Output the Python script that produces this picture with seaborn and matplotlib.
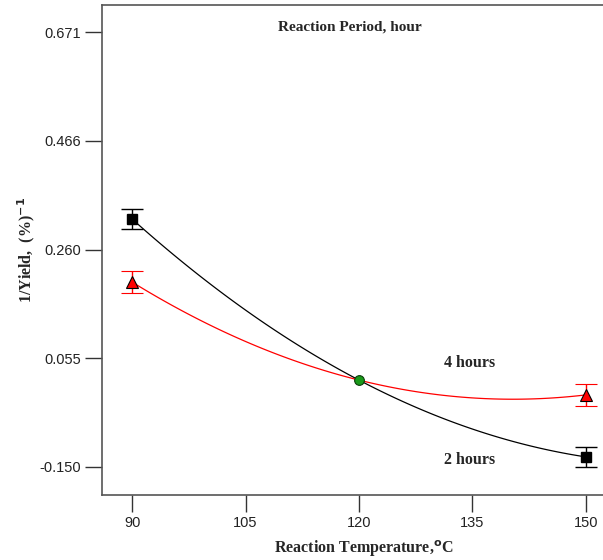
import numpy as np
import pandas as pd
import matplotlib
matplotlib.use("Agg")
import matplotlib.pyplot as plt
import seaborn as sns

# Reaction temperature (deg C) and inverse yield for the two reaction periods
temperature = [90, 120, 150]
inv_yield_2h = [0.318, 0.014, -0.131]
inv_yield_4h = [0.199, 0.014, -0.014]
err_2h = [0.019, 0.0, 0.019]
err_4h = [0.020, 0.0, 0.020]

x_ticks = [90, 105, 120, 135, 150]
y_ticks = [0.671, 0.466, 0.260, 0.055, -0.150]

sns.set_style("ticks")
plt.rcParams["font.family"] = ["Liberation Sans", "DejaVu Sans"]

df2 = pd.DataFrame({"T": temperature, "y": inv_yield_2h})
df4 = pd.DataFrame({"T": temperature, "y": inv_yield_4h})

fig = plt.figure(figsize=(6.03, 5.6), dpi=100)
ax = fig.add_axes([0.169, 0.116, 0.835, 0.875])

# quadratic response curves
sns.regplot(data=df2, x="T", y="y", order=2, ci=None, scatter=False, truncate=True,
            line_kws=dict(color="black", lw=0.9, zorder=2), ax=ax)
sns.regplot(data=df4, x="T", y="y", order=2, ci=None, scatter=False, truncate=True,
            line_kws=dict(color="red", lw=0.9, zorder=2), ax=ax)

# design points at the factorial edges, with error bars
ends = [0, 2]
ax.errorbar([temperature[i] for i in ends], [inv_yield_2h[i] for i in ends],
            yerr=[err_2h[i] for i in ends], fmt="s", ms=7, mfc="black", mec="black",
            ecolor="black", elinewidth=1, capsize=8, capthick=1, zorder=4)
ax.errorbar([temperature[i] for i in ends], [inv_yield_4h[i] for i in ends],
            yerr=[err_4h[i] for i in ends], fmt="^", ms=8, mfc="red", mec="black", mew=0.8,
            ecolor="red", elinewidth=1, capsize=8, capthick=1, zorder=4)
# centre point
ax.plot(temperature[1], inv_yield_2h[1], "o", ms=7, mfc="#1a9a1a", mec="#0b3d0b",
        mew=0.8, zorder=5)

ax.set_xlim(86.0, 152.6)
ax.set_ylim(-0.203, 0.722)
ax.set_xticks(x_ticks)
ax.set_xticklabels([str(t) for t in x_ticks])
ax.set_yticks(y_ticks)
ax.set_yticklabels([f"{v:.3f}" for v in y_ticks])
ax.tick_params(direction="out", length=12, width=1, color="#333333",
               labelsize=10.5, labelcolor="#222222", pad=3)

for s in ax.spines.values():
    s.set_color("#555555")
    s.set_linewidth(1.2)
ax.spines["right"].set_visible(False)

serif = ["Liberation Serif", "DejaVu Serif"]
ax.set_xlabel("Reaction Temperature,$^{\\mathbf{o}}$C", family=serif, fontweight="bold",
              fontsize=11.5)
ax.xaxis.set_label_coords(0.52, -0.088)
ax.set_ylabel("1/Yield,  (%)$^{\\mathbf{-1}}$", family=serif, fontweight="bold",
              fontsize=11.5)
ax.yaxis.set_label_coords(-0.128, 0.5)

ax.text(0.493, 0.955, "Reaction Period, hour", transform=ax.transAxes, ha="center",
        va="center", family=serif, fontweight="bold", fontsize=11)
ax.text(134.6, 0.046, "4 hours", ha="center", va="center", family=serif,
        fontweight="bold", fontsize=11.5)
ax.text(134.6, -0.137, "2 hours", ha="center", va="center", family=serif,
        fontweight="bold", fontsize=11.5)

fig.savefig("out.png", dpi=100)
